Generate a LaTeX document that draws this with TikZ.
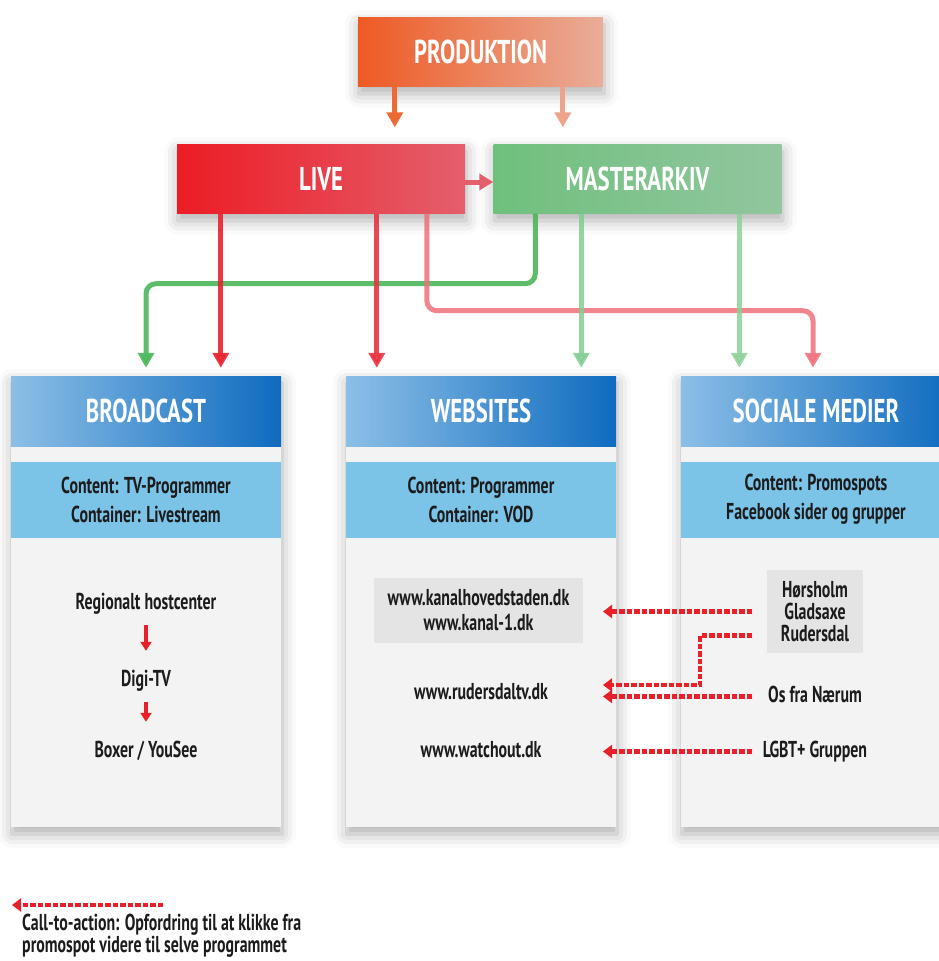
\documentclass[tikz,border=0pt]{standalone}
\usepackage{fontspec}
\setmainfont{PT Sans}[FakeStretch=0.69]
\usepackage{tikz}
\usetikzlibrary{arrows.meta,positioning,calc,shadows.blur}
\definecolor{prodL}{HTML}{EE5A24}
\definecolor{prodR}{HTML}{E9AD98}
\definecolor{liveL}{HTML}{EC1C24}
\definecolor{liveR}{HTML}{E45F6C}
\definecolor{mastL}{HTML}{6FC07D}
\definecolor{mastR}{HTML}{92C69E}
\definecolor{headL}{HTML}{8CBFE6}
\definecolor{headR}{HTML}{0F6BBF}
\definecolor{subblue}{HTML}{7CC3E8}
\definecolor{bodygray}{HTML}{F3F3F3}
\definecolor{itemgray}{HTML}{E4E4E4}
\definecolor{ink}{HTML}{1C1C1C}
\definecolor{ctared}{HTML}{E8202A}
\newcommand{\hdfont}{\fontsize{33}{33}\selectfont\bfseries}
\newcommand{\txfont}{\fontsize{23}{29}\selectfont\bfseries}

\begin{document}
\begin{tikzpicture}[x=1pt,y=-1pt,
  soft/.style={blur shadow={shadow xshift=1pt,shadow yshift=-7pt,shadow blur radius=14pt,shadow opacity=32}},
  topbox/.style={soft,inner sep=0pt,minimum height=69,text=white,font=\hdfont},
  head/.style={inner sep=0pt,minimum width=270,minimum height=70,text=white,font=\hdfont,left color=headL,right color=headR},
  sub/.style={inner sep=0pt,minimum width=270,minimum height=76,fill=subblue,text=ink,font=\txfont,align=center},
  col/.style={soft,inner sep=0pt,minimum width=270,minimum height=451,fill=bodygray},
  item/.style={anchor=base,inner sep=2pt,text=ink,font=\txfont,align=center,text height=16pt,text depth=5pt},
  graybox/.style={inner sep=0pt,fill=itemgray,text=ink,align=center},
  flow/.style={line width=5pt,rounded corners=10pt,shorten >=8pt,-{Triangle[width=16pt,length=15pt]}},
  down/.style={line width=4pt,ctared,shorten <=9pt,shorten >=17pt,-{Triangle[width=11pt,length=9pt]}},
  cta/.style={line width=4.5pt,ctared,dash pattern=on 5.5pt off 2pt,-{Triangle[width=13pt,length=9pt]}}]
\useasboundingbox (0,0) rectangle (939,961);

\node[topbox,minimum width=245,left color=prodL,right color=prodR] (prod) at (480.5,52) {PRODUKTION};
\node[topbox,minimum width=288,left color=liveL,right color=liveR] (live) at (321,179) {LIVE};
\node[topbox,minimum width=288,left color=mastL,right color=mastR] (master) at (637.5,179) {MASTERARKIV};

\node[col] (bccol) at (146,601.5) {};
\node[col] (webcol) at (481,601.5) {};
\node[col] (soccol) at (816,601.5) {};
\node[head] (bc) at (146,411) {BROADCAST};
\node[head] (web) at (481,411) {WEBSITES};
\node[head] (soc) at (816,411) {SOCIALE MEDIER};
\node[sub] (bcsub) at (146,499.5) {Content: TV-Programmer\\Container: Livestream};
\node[sub] (websub) at (481,499.5) {Content: Programmer\\Container: VOD};
\node[sub] (socsub) at (816,499.5) {Content: Promospots\\Facebook sider og grupper};

\node[item] (rh) at (146,609) {Regionalt hostcenter};
\node[item] (digi) at (146,686) {Digi-TV};
\node[item] (boxer) at (146,757) {Boxer / YouSee};

\node[graybox,minimum width=209,minimum height=65,font=\fontsize{23}{25}\selectfont\bfseries] (kanal) at (478.5,610.5) {www.kanalhovedstaden.dk\\www.kanal-1.dk};
\node[item] (rtv) at (481,699) {www.rudersdaltv.dk};
\node[item] (watch) at (481,757) {www.watchout.dk};

\node[graybox,minimum width=96,minimum height=83,font=\fontsize{23}{22}\selectfont\bfseries] (hgr) at (815,611.5) {Hørsholm\\Gladsaxe\\Rudersdal};
\node[item] (os) at (815,702) {Os fra Nærum};
\node[item] (lgbt) at (815,757) {LGBT+ Gruppen};

\node[anchor=base west,inner sep=0pt,text=ink,align=left,font=\fontsize{23}{22}\selectfont\bfseries] (leg) at (22,952) {Call-to-action: Opfordring til at klikke fra\\promospot videre til selve programmet};

\coordinate (p1) at ([xshift=37pt]prod.south west);
\coordinate (p2) at ([xshift=205pt]prod.south west);
\coordinate (l1) at ([xshift=44pt]live.south west);
\coordinate (l2) at ([xshift=200pt]live.south west);
\coordinate (l3) at ([xshift=250pt]live.south west);
\coordinate (m1) at ([xshift=42pt]master.south west);
\coordinate (m2) at ([xshift=88pt]master.south west);
\coordinate (m3) at ([xshift=246pt]master.south west);

\draw[flow,shorten >=17pt,color={rgb,255:red,238;green,106;blue,53}] (p1) -- (p1 |- live.north);
\draw[flow,shorten >=17pt,color={rgb,255:red,238;green,164;blue,138}] (p2) -- (p2 |- master.north);
\draw[line width=5pt,liveR,-{Triangle[width=16pt,length=14pt]}] ([yshift=-3pt]live.east) -- ([yshift=-3pt]master.west);

\draw[flow,opacity=.9,color={rgb,255:red,76;green,182;blue,90}] (m1) -- ++(0,70) -| (bc.north);
\draw[flow,opacity=.9,color={rgb,255:red,232;green,34;blue,46}] (l1) -- (l1 |- bc.north);
\draw[flow,opacity=.9,color={rgb,255:red,232;green,52;blue,64}] (l2) -- (l2 |- web.north);
\draw[flow,opacity=.85,color={rgb,255:red,238;green,112;blue,122}] (l3) -- ++(0,97) -| ([xshift=-3pt]soc.north);
\draw[flow,opacity=.85,color={rgb,255:red,130;green,205;blue,144}] (m2) -- (m2 |- web.north);
\draw[flow,opacity=.85,color={rgb,255:red,140;green,210;blue,152}] (m3) -- (m3 |- soc.north);

\draw[down] (rh) -- (digi);
\draw[down] (digi) -- (boxer);

\coordinate (ctaR) at (752,0);
\coordinate (ctaL) at (603,0);
\coordinate (ctaB) at (700,0);
\coordinate (g2) at ([yshift=-24pt]hgr.west);
\coordinate (r2) at ([yshift=14pt]rtv.base);
\draw[cta] (ctaR |- hgr.west) -- (ctaL |- hgr.west);
\draw[cta] (ctaR |- g2) -| (ctaB |- r2) -- (ctaL |- r2);
\draw[cta] (ctaR |- os.center) -- (ctaL |- os.center);
\draw[cta] (ctaR |- lgbt.center) -- (ctaL |- lgbt.center);
\draw[cta] ([xshift=141pt,yshift=47pt]leg.base west) -- ([xshift=-10pt,yshift=47pt]leg.base west);
\end{tikzpicture}
\end{document}
